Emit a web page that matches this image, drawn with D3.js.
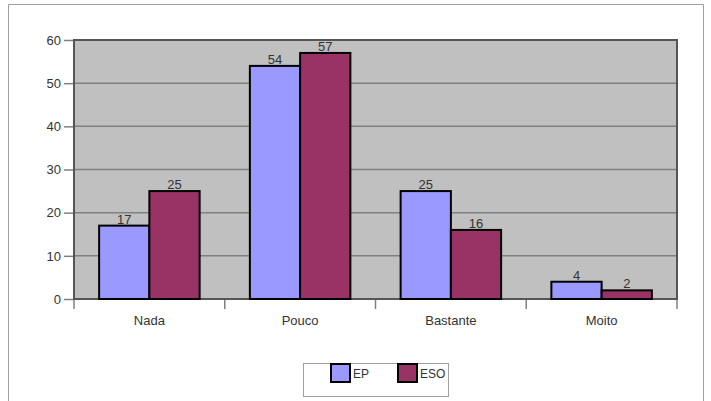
<!DOCTYPE html>
<html><head><meta charset="utf-8">
<script src="https://cdn.jsdelivr.net/npm/d3@7"></script>
<style>body{margin:0;background:#fff}svg{display:block;font-family:"Liberation Sans",Arial,sans-serif}</style>
</head><body><svg id="c" width="711" height="401"></svg>
<script>
const categories = ["Nada", "Pouco", "Bastante", "Moito"];
const seriesNames = ["EP", "ESO"];
const epValues = [17, 54, 25, 4];
const esoValues = [25, 57, 16, 2];
const yTicks = [0, 10, 20, 30, 40, 50, 60];
const colors = ["#9999ff", "#993366"];

const svg = d3.select("#c");
svg.append("path").attr("d", "M8.5,410V4.5H703.5V410").attr("fill","none").attr("stroke","#a0a0a0").attr("stroke-width",1);

const L = 74, R = 677, T = 40, B = 299;
const x = d3.scaleBand().domain(categories).range([L, R]);
const y = d3.scaleLinear().domain([0, 60]).range([B, T]);
const xs = d3.scaleBand().domain(seriesNames).range([0, x.bandwidth()]).paddingOuter(0.5).paddingInner(0);

svg.append("rect").attr("x", L).attr("y", T).attr("width", R - L).attr("height", B - T).attr("fill", "#c0c0c0");
svg.append("g").selectAll("line").data(yTicks.slice(1, -1)).join("line")
  .attr("x1", L).attr("x2", R).attr("y1", d => y(d)).attr("y2", d => y(d))
  .attr("stroke", "#808080").attr("stroke-width", 1.5);

const ya = svg.append("g").attr("transform", `translate(${L},0)`)
  .call(d3.axisLeft(y).tickValues(yTicks).tickSize(10).tickPadding(3));
ya.select(".domain").remove();
ya.selectAll("line").attr("stroke", "#808080").attr("stroke-width", 1.5);
ya.selectAll("text").attr("font-size", 13).attr("fill", "#333").attr("font-family", "Liberation Sans, Arial, sans-serif");

const xa = svg.append("g").attr("transform", `translate(0,${B})`)
  .call(d3.axisBottom(x).tickSize(0).tickPadding(17));
xa.select(".domain").remove();
xa.selectAll("text").attr("font-size", 13).attr("fill", "#333").attr("font-family", "Liberation Sans, Arial, sans-serif");
const bounds = categories.map(c => x(c)).concat([R]);
svg.append("g").selectAll("line").data(bounds).join("line")
  .attr("x1", d => d).attr("x2", d => d).attr("y1", B).attr("y2", B + 10)
  .attr("stroke", "#808080").attr("stroke-width", 1.5);

svg.append("rect").attr("x", L).attr("y", T).attr("width", R - L).attr("height", B - T)
  .attr("fill", "none").attr("stroke", "#555").attr("stroke-width", 2);

const data = [];
categories.forEach((c, i) => {
  data.push({c, s: "EP", v: epValues[i], col: colors[0]});
  data.push({c, s: "ESO", v: esoValues[i], col: colors[1]});
});
const g = svg.append("g");
g.selectAll("rect").data(data).join("rect")
  .attr("x", d => x(d.c) + xs(d.s)).attr("width", xs.bandwidth())
  .attr("y", d => y(d.v)).attr("height", d => y(0) - y(d.v))
  .attr("fill", d => d.col).attr("stroke", "#000").attr("stroke-width", 2);
g.selectAll("text").data(data).join("text")
  .attr("x", d => x(d.c) + xs(d.s) + xs.bandwidth() / 2).attr("y", d => y(d.v) - 2)
  .attr("text-anchor", "middle").attr("font-size", 13).attr("fill", "#333").text(d => d.v);

const lg = svg.append("g");
lg.append("rect").attr("x", 303.5).attr("y", 363.5).attr("width", 145).attr("height", 33)
  .attr("fill", "#fff").attr("stroke", "#a0a0a0");
const lx = [331, 398];
seriesNames.forEach((s, i) => {
  lg.append("rect").attr("x", lx[i]).attr("y", 364).attr("width", 19).attr("height", 18)
    .attr("fill", colors[i]).attr("stroke", "#000").attr("stroke-width", 2);
  lg.append("text").attr("x", lx[i] + 22).attr("y", 378).attr("font-size", 12).attr("fill", "#333").text(s);
});
</script></body></html>
